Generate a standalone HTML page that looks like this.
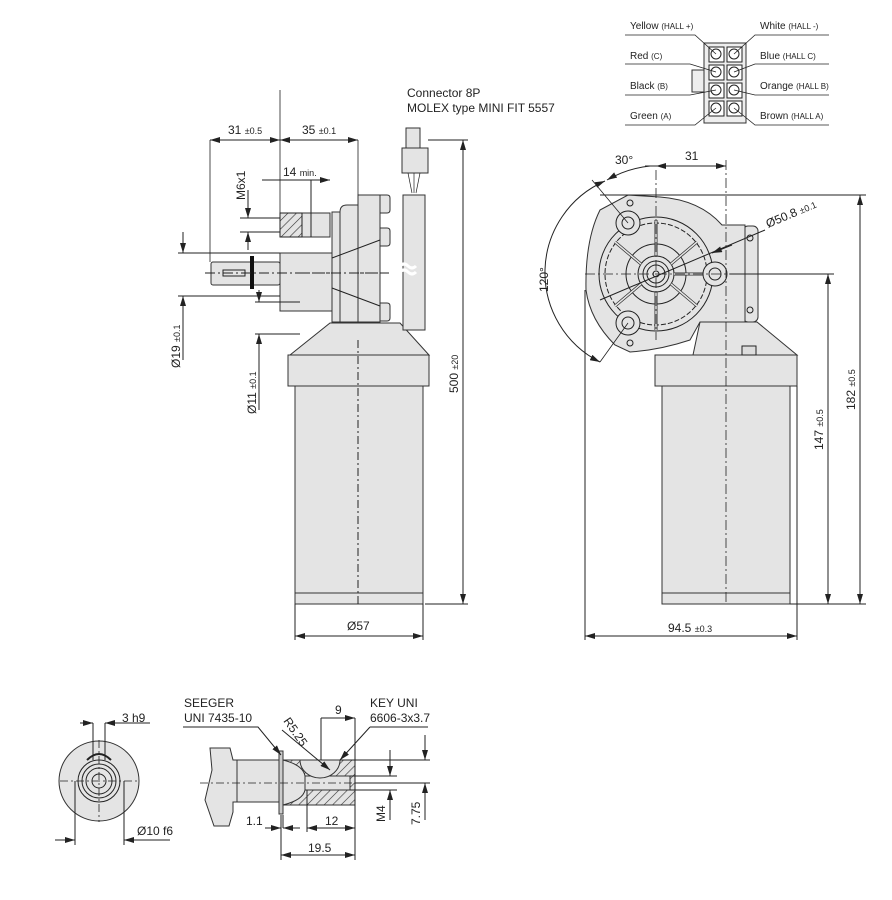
<!DOCTYPE html>
<html><head><meta charset="utf-8"><style>
body{margin:0;background:#fff}
svg{display:block}
text{font-family:"Liberation Sans",sans-serif;fill:#222}
</style></head><body>
<svg width="892" height="900" viewBox="0 0 892 900" xmlns="http://www.w3.org/2000/svg">
<defs>
<marker id="a" viewBox="0 0 10 6" refX="10" refY="3" markerWidth="10" markerHeight="6" orient="auto-start-reverse" markerUnits="userSpaceOnUse"><path d="M0,0L10,3L0,6z" fill="#222"/></marker>
<pattern id="h" width="6" height="6" patternUnits="userSpaceOnUse" patternTransform="rotate(45)"><rect width="6" height="6" fill="#e4e4e4"/><line x1="0" y1="0" x2="0" y2="6" stroke="#333" stroke-width="1.2"/></pattern>
</defs>
<g stroke="#222" stroke-width="1" fill="none">
<!-- ===== LEFT VIEW ===== -->
<g fill="#e4e4e4" stroke="#333">
<path d="M290,355 L330,323 L400,323 L429,355 Z"/>
<rect x="288" y="355" width="141" height="31"/>
<rect x="295" y="386" width="128" height="218"/>
<rect x="295" y="593" width="128" height="11"/>
<path d="M340,322 L340,212 Q340,205 347,205 L358,205 L358,322 Z"/>
<rect x="358" y="195" width="22" height="127"/>
<path d="M380,195 h7 q3,0 3,3 v12 q0,3 -3,3 h-7z M380,228 h7 q3,0 3,3 v12 q0,3 -3,3 h-7z M380,303 h7 q3,0 3,3 v12 q0,3 -3,3 h-7z"/>
<rect x="332" y="212" width="8" height="110"/>
<rect x="280" y="213" width="50" height="24"/>
<rect x="280" y="253" width="52" height="58"/>
<rect x="211" y="262" width="69" height="23" rx="2"/>
<rect x="403" y="195" width="22" height="135"/>
<rect x="402" y="148" width="26" height="25"/>
<rect x="406" y="128" width="14" height="20"/>
</g>
<rect x="280" y="213" width="22" height="24" fill="url(#h)"/>
<rect x="250" y="256" width="4" height="33" fill="#111" stroke="none"/>
<rect x="223" y="270" width="22" height="6"/>
<path d="M301,273 H390 M358,340 V604" stroke-dasharray="8,3,2,3"/>
<path d="M205,273 H385" stroke-dasharray="10,3,2,3"/>
<path d="M408,173 l4,20 M414,173 l0,20 M420,173 l-4,20" stroke-width="0.7"/>
<path d="M332,258 L380,240 M332,288 L380,306" />
<path d="M400,266 q4,-4 8,0 q4,4 8,0 M400,272 q4,-4 8,0 q4,4 8,0" stroke="#fff" stroke-width="3"/>
<!-- dims -->
<path d="M210,140 V262 M280,90 V213 M358,140 V195" stroke-width="0.8"/>
<path d="M210,140 H280" marker-start="url(#a)" marker-end="url(#a)"/>
<path d="M280,140 H358" marker-start="url(#a)" marker-end="url(#a)"/>
<path d="M262,180 H280 M311,180 H330" marker-end="url(#a)"/>
<path d="M280,180 H311 M311,180 V237"/>
<path d="M240,218 H280 M240,232 H280"/>
<path d="M248,190 V218" marker-end="url(#a)"/><path d="M248,250 V232" marker-end="url(#a)"/>
<path d="M178,253 H280 M178,296 H280"/>
<path d="M183,232 V253" marker-end="url(#a)"/><path d="M183,318 V296" marker-end="url(#a)"/>
<path d="M183,318 V360"/>
<path d="M255,302 H300 M255,334 H300"/>
<path d="M259,290 V302" marker-end="url(#a)"/><path d="M259,350 V334" marker-end="url(#a)"/>
<path d="M259,350 V410"/>
<path d="M428,140 H468 M425,604 H468"/>
<path d="M463,140 V604" marker-start="url(#a)" marker-end="url(#a)"/>
<path d="M295,604 V640 M423,604 V640"/>
<path d="M295,636 H423" marker-start="url(#a)" marker-end="url(#a)"/>
<!-- ===== RIGHT VIEW ===== -->
<g fill="#e4e4e4" stroke="#333">
<path d="M700,322 L693,355 L797,355 L757,322 Z"/>
<rect x="655" y="355" width="142" height="31"/>
<rect x="662" y="386" width="128" height="218"/>
<rect x="662" y="593" width="128" height="11"/>
<rect x="743" y="226" width="15" height="96" rx="5"/>
<path d="M600,210 L628,195 L660,197 Q700,200 722,225 L745,225 L745,322 L700,322 L690,340 Q660,350 630,352 L615,345 Q590,320 586,290 Q585,240 600,210 Z"/>
</g>
<rect x="742" y="346" width="14" height="9" fill="#ddd"/>
<circle cx="656" cy="274" r="57" fill="none"/>
<circle cx="656" cy="274" r="51" fill="none" stroke-dasharray="5,2"/>
<circle cx="656" cy="274" r="30"/>
<circle cx="656" cy="274" r="18"/><circle cx="656" cy="274" r="13"/><circle cx="656" cy="274" r="9"/><circle cx="656" cy="274" r="3"/>
<g stroke-width="3" stroke="#333">
<path d="M656,256 V220 M656,292 V330 M671,264 L697,242 M641,264 L615,242 M641,284 L615,306 M671,284 L697,306 M674,274 H705"/>
</g>
<g stroke-width="1.5" stroke="#e4e4e4">
<path d="M656,256 V220 M656,292 V330 M671,264 L697,242 M641,264 L615,242 M641,284 L615,306 M671,284 L697,306 M674,274 H705"/>
</g>
<g fill="#e4e4e4"><circle cx="628" cy="223" r="12"/><circle cx="628" cy="323" r="12"/><circle cx="715" cy="274" r="12"/></g>
<circle cx="628" cy="223" r="6"/><circle cx="628" cy="323" r="6"/><circle cx="715" cy="274" r="6"/>
<circle cx="630" cy="203" r="3"/><circle cx="630" cy="343" r="3"/><circle cx="750" cy="238" r="3"/><circle cx="750" cy="310" r="3"/>
<path d="M585,274 H760 M656,170 V340 M726,160 V604" stroke-dasharray="10,3,2,3" stroke-width="0.8"/>
<path d="M656,166 H726" marker-start="url(#a)" marker-end="url(#a)"/>
<path d="M645,166 H656"/>
<path d="M600,300 L765,230"/>
<path d="M712,253 L732,245" marker-start="url(#a)"/>
<path d="M650,166 A108,108 0 0,0 607,180" marker-end="url(#a)"/>
<path d="M605,181 A100,100 0 0,0 600,362" marker-start="url(#a)" marker-end="url(#a)"/>
<path d="M592,180 L628,223 M600,362 L628,323" stroke-width="0.8"/>
<path d="M600,195 H866"/>
<path d="M860,195 V604" marker-start="url(#a)" marker-end="url(#a)"/>
<path d="M730,274 H834"/>
<path d="M828,274 V604" marker-start="url(#a)" marker-end="url(#a)"/>
<path d="M790,604 H866"/>
<path d="M585,290 V640 M797,386 V640"/>
<path d="M585,636 H797" marker-start="url(#a)" marker-end="url(#a)"/>
<!-- ===== CONNECTOR TABLE ===== -->
<rect x="704" y="43" width="42" height="80" fill="#eee" stroke="#333"/>
<rect x="692" y="70" width="12" height="22" fill="#eee" stroke="#333"/>
<g fill="#fff">
<rect x="709" y="47" width="15" height="15"/><rect x="727" y="47" width="15" height="15"/>
<rect x="709" y="65" width="15" height="15"/><rect x="727" y="65" width="15" height="15"/>
<rect x="709" y="83" width="15" height="15"/><rect x="727" y="83" width="15" height="15"/>
<rect x="709" y="101" width="15" height="15"/><rect x="727" y="101" width="15" height="15"/>
</g>
<g><circle cx="716" cy="54" r="5"/><circle cx="734" cy="54" r="5"/><circle cx="716" cy="72" r="5"/><circle cx="734" cy="72" r="5"/><circle cx="716" cy="90" r="5"/><circle cx="734" cy="90" r="5"/><circle cx="716" cy="108" r="5"/><circle cx="734" cy="108" r="5"/></g>
<path d="M625,35 H695 L716,54 M625,64 H690 L716,72 M625,95 H690 L716,90 M625,125 H695 L716,108" stroke-width="0.8"/>
<path d="M829,35 H755 L734,54 M829,64 H755 L734,72 M829,95 H755 L734,90 M829,125 H755 L734,108" stroke-width="0.8"/>
<!-- ===== BOTTOM FRONT VIEW ===== -->
<circle cx="99" cy="781" r="40" fill="#e4e4e4" stroke="#333"/>
<circle cx="99" cy="781" r="21"/><circle cx="99" cy="781" r="17"/><circle cx="99" cy="781" r="13"/><circle cx="99" cy="781" r="7"/>
<path d="M87,760 Q99,748 111,760" stroke-width="2"/>
<path d="M60,781 H140 M99,740 V822" stroke-dasharray="8,3,2,3" stroke-width="0.8"/>
<path d="M93,723 V760 M105,723 V760 M75,781 V845 M124,781 V845"/>
<path d="M80,723 H93" marker-end="url(#a)"/><path d="M150,723 H105" marker-end="url(#a)"/>
<path d="M55,840 H75" marker-end="url(#a)"/><path d="M170,840 H124" marker-end="url(#a)"/>
<!-- ===== BOTTOM SHAFT ===== -->
<path d="M210,748 L230,748 L233,760 L237,760 L237,802 L233,802 L233,812 L229,826 L214,826 L205,800 L212,770 Z" fill="#e4e4e4" stroke="#333"/>
<rect x="237" y="760" width="46" height="42" fill="#e4e4e4" stroke="#333"/>
<rect x="283" y="760" width="72" height="45" fill="url(#h)" stroke="#333"/>
<path d="M283,760 Q303,765 305,776 L305,790 Q303,800 283,805 Z" fill="#e4e4e4" stroke="#333"/>
<rect x="305" y="776" width="45" height="14" fill="#e4e4e4" stroke="#333"/>
<path d="M300,760 A20,18 0 0,0 340,760 Z" fill="#e4e4e4" stroke="#333"/>
<rect x="279" y="751" width="4" height="63" fill="#ccc" stroke="#333"/>
<path d="M200,783 H360" stroke-dasharray="8,3,2,3" stroke-width="0.8"/>
<path d="M183,727 H258 L281,755" marker-end="url(#a)"/>
<path d="M282,730 L330,770" marker-end="url(#a)"/>
<path d="M370,727 H428 M370,727 L340,760" marker-end="url(#a)"/>
<path d="M321,718 V760 M355,718 V860 M281,815 V860 M307,790 V832"/>
<path d="M321,718 H355" marker-end="url(#a)"/>
<path d="M265,828 H281" marker-end="url(#a)"/><path d="M300,828 H283" marker-end="url(#a)"/><path d="M283,828 V815"/>
<path d="M307,828 H355" marker-start="url(#a)" marker-end="url(#a)"/>
<path d="M281,855 H355" marker-start="url(#a)" marker-end="url(#a)"/>
<path d="M350,776 H397 M350,790 H397 M340,760 H430 M355,783 H430"/>
<path d="M390,750 V776" marker-end="url(#a)"/><path d="M390,820 V790" marker-end="url(#a)"/>
<path d="M425,735 V760" marker-end="url(#a)"/><path d="M425,820 V783" marker-end="url(#a)"/>
</g>
<!-- ===== TEXT ===== -->
<g font-size="12">
<text x="228" y="134">31 <tspan font-size="9">±0.5</tspan></text>
<text x="302" y="134">35 <tspan font-size="9">±0.1</tspan></text>
<text x="283" y="176">14 <tspan font-size="9">min.</tspan></text>
<text transform="translate(245,200) rotate(-90)">M6x1</text>
<text transform="translate(180,368) rotate(-90)">Ø19 <tspan font-size="9">±0.1</tspan></text>
<text transform="translate(256,414) rotate(-90)">Ø11 <tspan font-size="9">±0.1</tspan></text>
<text transform="translate(458,393) rotate(-90)">500 <tspan font-size="9">±20</tspan></text>
<text x="347" y="630">Ø57</text>
<text x="407" y="97">Connector 8P</text>
<text x="407" y="112">MOLEX type MINI FIT 5557</text>
<text x="615" y="164">30°</text>
<text x="685" y="160">31</text>
<text transform="translate(548,292) rotate(-90)">120°</text>
<text transform="translate(768,228) rotate(-23)">Ø50.8 <tspan font-size="9">±0.1</tspan></text>
<text transform="translate(823,450) rotate(-90)">147 <tspan font-size="9">±0.5</tspan></text>
<text transform="translate(855,410) rotate(-90)">182 <tspan font-size="9">±0.5</tspan></text>
<text x="668" y="632">94.5 <tspan font-size="9">±0.3</tspan></text>
<text x="122" y="722">3 h9</text>
<text x="137" y="835">Ø10 f6</text>
<text x="184" y="707">SEEGER</text>
<text x="184" y="722">UNI 7435-10</text>
<text x="370" y="707">KEY UNI</text>
<text x="370" y="722">6606-3x3.7</text>
<text transform="translate(283,721) rotate(55)">R5.25</text>
<text x="335" y="714">9</text>
<text x="246" y="825">1.1</text>
<text x="325" y="825">12</text>
<text x="308" y="852">19.5</text>
<text transform="translate(385,822) rotate(-90)">M4</text>
<text transform="translate(420,825) rotate(-90)">7.75</text>
</g>
<g font-size="10">
<text x="630" y="29">Yellow <tspan font-size="8">(HALL +)</tspan></text>
<text x="630" y="59">Red <tspan font-size="8">(C)</tspan></text>
<text x="630" y="89">Black <tspan font-size="8">(B)</tspan></text>
<text x="630" y="119">Green <tspan font-size="8">(A)</tspan></text>
<text x="760" y="29">White <tspan font-size="8">(HALL -)</tspan></text>
<text x="760" y="59">Blue <tspan font-size="8">(HALL C)</tspan></text>
<text x="760" y="89">Orange <tspan font-size="8">(HALL B)</tspan></text>
<text x="760" y="119">Brown <tspan font-size="8">(HALL A)</tspan></text>
</g>
</svg>
</body></html>
